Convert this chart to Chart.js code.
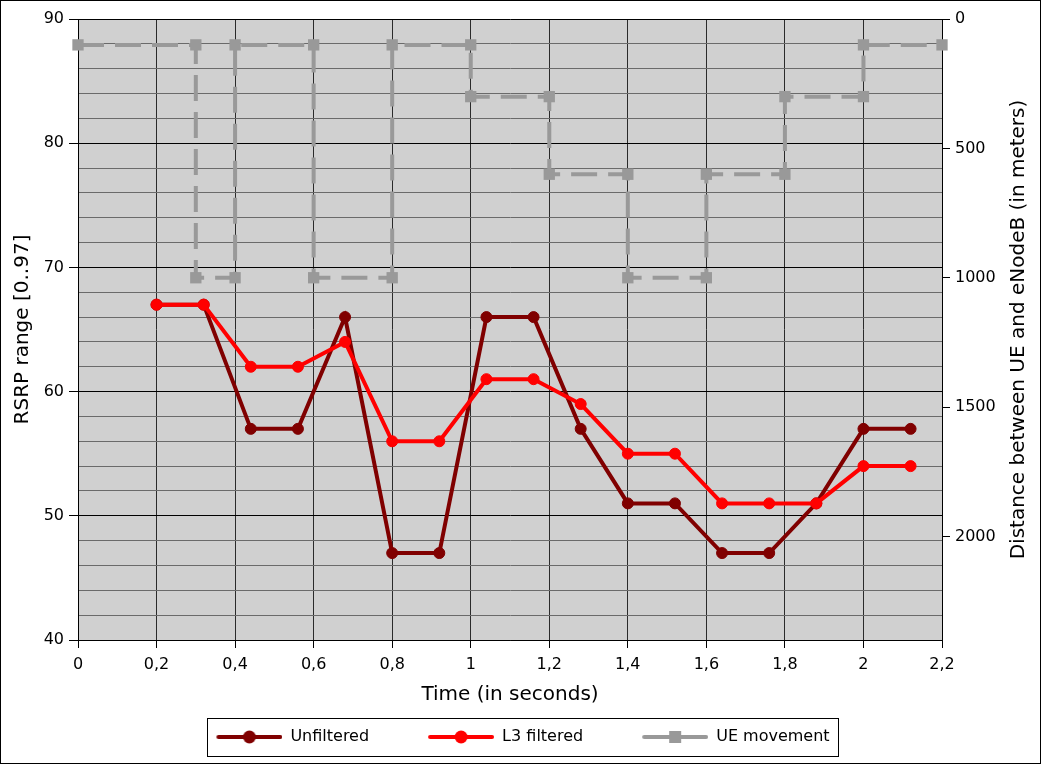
<!DOCTYPE html>
<html><head><meta charset="utf-8">
<script src="https://cdn.jsdelivr.net/npm/chart.js@4/dist/chart.umd.min.js"></script>
<style>html,body{margin:0;padding:0;background:#fff;} canvas{display:block;}</style>
</head><body>
<canvas id="c" width="1042" height="765"></canvas>
<script>
const sampleTimes = [0.2,0.32,0.44,0.56,0.68,0.8,0.92,1.04,1.16,1.28,1.4,1.52,1.64,1.76,1.88,2.0,2.12];
const unfiltered  = [67,67,57,57,66,47,47,66,66,57,51,51,47,47,51,57,57];
const l3Filtered  = [67,67,62,62,64,56,56,61,61,59,55,55,51,51,51,54,54];
const ueTimes     = [0,0.3,0.3,0.4,0.4,0.6,0.6,0.8,0.8,1.0,1.0,1.2,1.2,1.4,1.4,1.6,1.6,1.8,1.8,2.0,2.0,2.2];
const ueDistance  = [100,100,1000,1000,100,100,1000,1000,100,100,300,300,600,600,1000,1000,600,600,300,300,100,100];
const distanceTicks = [0,500,1000,1500,2000];
const seriesNames = ['Unfiltered','L3 filtered','UE movement'];
const xTitle = 'Time (in seconds)';
const yLeftTitle = 'RSRP range [0..97]';
const yRightTitle = 'Distance between UE and eNodeB (in meters)';

const COLORS = ['#800000','#ff0000','#999999'];
const STYLES = ['circle','circle','rect'];
const FONT = 'DejaVu Sans';
Chart.defaults.font.family = FONT;
Chart.defaults.font.size = 16;
Chart.defaults.color = '#000';

const LEG_M = 49, LEG_LINE = 66, LEG_W = LEG_M + LEG_LINE;
function legendIcon(color, style){
  const c = document.createElement('canvas');
  c.width = LEG_W; c.height = 16;
  const g = c.getContext('2d');
  g.strokeStyle = color; g.lineWidth = 4; g.lineCap = 'round';
  g.beginPath(); g.moveTo(LEG_M+2, 8); g.lineTo(LEG_W-2, 8); g.stroke();
  g.fillStyle = color;
  const cx = LEG_M + LEG_LINE/2;
  if (style === 'rect') { g.fillRect(cx-6, 2, 12, 12); }
  else { g.beginPath(); g.arc(cx, 8, 6.5, 0, Math.PI*2); g.fill(); }
  return c;
}
const icons = COLORS.map((c,i)=>legendIcon(c, STYLES[i]));

const fmt = v => String(Math.round(v*10)/10).replace('.', ',');

const deco = {
  id: 'deco',
  beforeDraw(chart){
    const {ctx, chartArea:a} = chart;
    ctx.save(); ctx.fillStyle = '#d0d0d0';
    ctx.fillRect(a.left, a.top, a.right-a.left, a.bottom-a.top);
    ctx.restore();
  },
  afterDraw(chart){
    const {ctx, chartArea:a} = chart;
    ctx.save();
    ctx.translate(1019, (a.top+a.bottom)/2);
    ctx.rotate(-Math.PI/2);
    ctx.font = '20px "' + FONT + '"';
    ctx.fillStyle = '#000'; ctx.textAlign = 'center'; ctx.textBaseline = 'middle';
    ctx.fillText(yRightTitle, 0, 0);
    ctx.restore();
    const hb = chart.legend.legendHitBoxes;
    if (hb && hb.length){
      const first = hb[0], last = hb[hb.length-1];
      const cy = first.top + first.height/2;
      const l = Math.round(first.left + LEG_M - 9) + 0.5;
      const r = Math.round(last.left + last.width + 8) + 0.5;
      const t = Math.round(cy - 19) + 0.5, b = Math.round(cy + 19) + 0.5;
      ctx.save(); ctx.strokeStyle = '#000'; ctx.lineWidth = 1;
      ctx.strokeRect(l, t, r-l, b-t);
      ctx.restore();
    }
    ctx.save(); ctx.strokeStyle = '#000'; ctx.lineWidth = 1;
    ctx.strokeRect(0.5, 0.5, 1040, 763);
    ctx.restore();
  }
};

new Chart(document.getElementById('c'), {
  type: 'line',
  data: {
    datasets: [
      { label: seriesNames[0], data: sampleTimes.map((t,i)=>({x:t, y:unfiltered[i]})), yAxisID: 'y',
        borderColor: COLORS[0], backgroundColor: COLORS[0], borderWidth: 4, pointRadius: 5.5, pointBorderWidth: 1,
        pointStyle: 'circle', order: 1 },
      { label: seriesNames[1], data: sampleTimes.map((t,i)=>({x:t, y:l3Filtered[i]})), yAxisID: 'y',
        borderColor: COLORS[1], backgroundColor: COLORS[1], borderWidth: 4, pointRadius: 5.5, pointBorderWidth: 1,
        pointStyle: 'circle', order: 0 },
      { label: seriesNames[2], data: ueTimes.map((t,i)=>({x:t, y:ueDistance[i]})), yAxisID: 'y2',
        borderColor: COLORS[2], backgroundColor: COLORS[2], borderWidth: 4, borderDash: [26, 11],
        pointRadius: 8, pointBorderWidth: 0, pointStyle: 'rect', order: 2, clip: false }
    ]
  },
  options: {
    responsive: false, animation: false, devicePixelRatio: 1,
    layout: { padding: { top: 19, left: 0, right: 45, bottom: 10 } },
    plugins: {
      tooltip: { enabled: false },
      legend: {
        position: 'bottom',
        labels: {
          usePointStyle: true, pointStyleWidth: LEG_W, padding: 10,
          font: { size: 16 }, color: '#000',
          generateLabels: chart => chart.data.datasets.map((d,i)=>({
            text: d.label, pointStyle: icons[i], fillStyle: COLORS[i], strokeStyle: COLORS[i],
            lineWidth: 0, hidden: false, datasetIndex: i, fontColor: '#000'
          }))
        }
      }
    },
    scales: {
      x: {
        type: 'linear', min: 0, max: 2.2,
        afterFit: s => { s.height = 79; },
        ticks: { stepSize: 0.2, autoSkip: false, maxRotation: 0, padding: 7, callback: v => fmt(v), font: { size: 16 } },
        grid: { color: '#2a2a2a', lineWidth: 1, tickLength: 8, tickColor: '#000' },
        border: { color: '#000', width: 1 },
        title: { display: true, text: xTitle, font: { size: 20 }, padding: { top: 0, bottom: 12 } }
      },
      y: {
        type: 'linear', position: 'left', min: 40, max: 90,
        afterFit: s => { s.width = 78; },
        ticks: { stepSize: 2, autoSkip: false, padding: 5, font: { size: 16 },
                 callback: v => (Math.round(v) % 10 === 0 ? String(v) : '') },
        grid: {
          color: c => (Math.round(c.tick.value) % 10 === 0 ? '#000' : '#6a6a6a'),
          tickColor: c => (Math.round(c.tick.value) % 10 === 0 ? '#000' : 'rgba(0,0,0,0)'),
          lineWidth: 1, tickLength: 9
        },
        border: { color: '#000', width: 1 },
        title: { display: true, text: yLeftTitle, font: { size: 20 }, padding: { top: 11, bottom: 0 } }
      },
      y2: {
        type: 'linear', position: 'right', min: 0, max: 2400, reverse: true,
        afterFit: s => { s.width = 55; },
        afterBuildTicks: s => { s.ticks = distanceTicks.map(v => ({ value: v })); },
        ticks: { autoSkip: false, padding: 5, font: { size: 16 }, callback: v => String(v) },
        grid: { drawOnChartArea: false, tickLength: 8, color: '#000', tickColor: '#000' },
        border: { color: '#000', width: 1 }
      }
    }
  },
  plugins: [deco]
});
</script>
</body></html>
